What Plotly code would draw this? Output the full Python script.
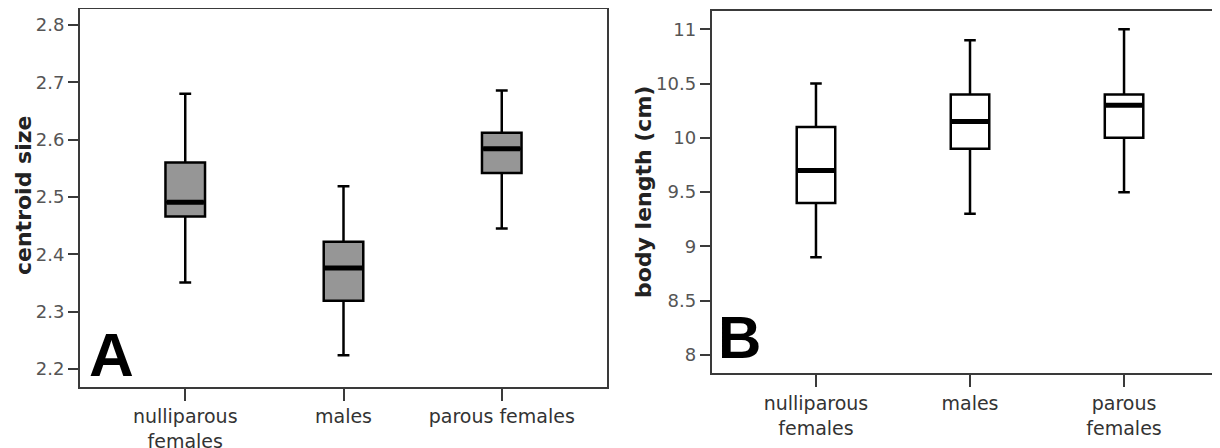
import plotly.graph_objects as go

# Panel A: centroid size
categories_a = ["nulliparous<br>females", "males", "parous females"]
cs_lower = [2.351, 2.224, 2.445]
cs_q1 = [2.466, 2.319, 2.542]
cs_median = [2.491, 2.376, 2.584]
cs_q3 = [2.560, 2.422, 2.612]
cs_upper = [2.680, 2.519, 2.686]
ticks_a = [2.2, 2.3, 2.4, 2.5, 2.6, 2.7, 2.8]
ticktext_a = ["2.2", "2.3", "2.4", "2.5", "2.6", "2.7", "2.8"]

# Panel B: body length (cm)
categories_b = ["nulliparous<br>females", "males", "parous<br>females"]
bl_lower = [8.9, 9.3, 9.5]
bl_q1 = [9.4, 9.9, 10.0]
bl_median = [9.7, 10.15, 10.3]
bl_q3 = [10.1, 10.4, 10.4]
bl_upper = [10.5, 10.9, 11.0]
ticks_b = [8, 8.5, 9, 9.5, 10, 10.5, 11]
ticktext_b = ["8", "8.5", "9", "9.5", "10", "10.5", "11"]

# page has an 8px body margin; figure is sized to fit the 1220x448 window
OFF = 8
W, H = 1220 - OFF, 448 - OFF


def px(x):
    return min(max((x - OFF) / W, 0.0), 1.0)


def py(y):
    return min(max(1 - (y - OFF) / H, 0.0), 1.0)


FRAME = "#3a3a3a"
TICKFONT = dict(family="DejaVu Sans", size=18, color="#555555")
CATFONT = dict(family="DejaVu Sans", size=19, color="#333333")
TITLEFONT = dict(family="DejaVu Sans", size=22, color="#222222")

fig = go.Figure()


def add_boxes(cats, lo, q1, med, q3, hi, fill, xa, ya):
    fig.add_trace(go.Box(
        x=cats, q1=q1, median=med, q3=q3, lowerfence=lo, upperfence=hi,
        fillcolor=fill, line=dict(color="black", width=2.5),
        width=0.25, whiskerwidth=0.3, boxpoints=False, showlegend=False,
        xaxis=xa, yaxis=ya, hoverinfo="skip"))
    # thicker median bar
    fig.add_trace(go.Box(
        x=cats, q1=med, median=med, q3=med, lowerfence=med, upperfence=med,
        fillcolor="rgba(0,0,0,0)", line=dict(color="black", width=5),
        width=0.235, whiskerwidth=0, boxpoints=False, showlegend=False,
        xaxis=xa, yaxis=ya, hoverinfo="skip"))


add_boxes(categories_a, cs_lower, cs_q1, cs_median, cs_q3, cs_upper, "#969696", "x", "y")
add_boxes(categories_b, bl_lower, bl_q1, bl_median, bl_q3, bl_upper, "white", "x2", "y2")

common_x = dict(type="category", showline=True, linecolor=FRAME, linewidth=2,
                mirror=True, ticks="outside", ticklen=12, tickwidth=2, tickcolor=FRAME,
                tickfont=CATFONT, showgrid=False, zeroline=False, automargin=False,
                fixedrange=True)
common_y = dict(showline=True, linecolor=FRAME, linewidth=2,
                ticks="outside", ticklen=10, tickwidth=2, tickcolor=FRAME,
                tickfont=TICKFONT, showgrid=False, zeroline=False, automargin=False,
                fixedrange=True)

fig.update_layout(
    width=W, height=H, template="none",
    margin=dict(l=0, r=0, t=0, b=0),
    paper_bgcolor="white", plot_bgcolor="white",
    boxmode="overlay",
    xaxis=dict(common_x, domain=[px(80), px(607)], range=[-0.665, 2.665], anchor="y"),
    yaxis=dict(common_y, domain=[py(386.5), py(9.2)], range=[2.1695, 2.8276],
               tickvals=ticks_a, ticktext=ticktext_a, mirror=True, anchor="x"),
    xaxis2=dict(common_x, domain=[px(711.7), 1.0], range=[-0.677, 2.623], anchor="y2"),
    yaxis2=dict(common_y, domain=[py(373), py(11)], range=[7.834, 11.1686],
                tickvals=ticks_b, ticktext=ticktext_b, mirror=False, anchor="x2"),
    annotations=[
        dict(text="<b>centroid size</b>", xref="paper", yref="paper", x=px(23), y=py(196),
             xanchor="center", yanchor="middle", textangle=-90, showarrow=False,
             borderpad=0, font=TITLEFONT),
        dict(text="<b>body length (cm)</b>", xref="paper", yref="paper", x=px(643), y=py(192),
             xanchor="center", yanchor="middle", textangle=-90, showarrow=False,
             borderpad=0, font=TITLEFONT),
        dict(text="<b>A</b>", xref="paper", yref="paper", x=px(111), y=py(354.5),
             xanchor="center", yanchor="middle", showarrow=False, borderpad=0,
             font=dict(family="Liberation Sans", size=62, color="black")),
        dict(text="<b>B</b>", xref="paper", yref="paper", x=px(739), y=py(337.7),
             xanchor="center", yanchor="middle", showarrow=False, borderpad=0,
             font=dict(family="Liberation Sans", size=60, color="black")),
    ],
)

fig.write_html("out.html")
